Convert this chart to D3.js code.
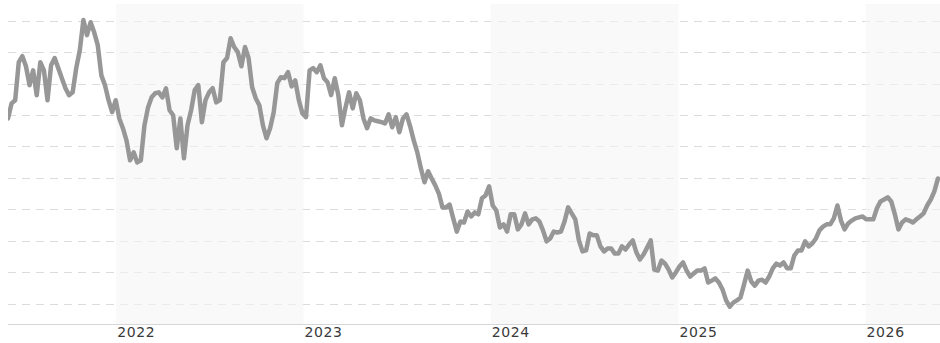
<!DOCTYPE html>
<html>
<head>
<meta charset="utf-8">
<script src="https://cdn.jsdelivr.net/npm/d3@7"></script>
<style>
  html, body { margin: 0; padding: 0; background: #ffffff; }
  svg { display: block; }
</style>
</head>
<body>
<svg id="chart" width="940" height="343"></svg>
<script>
const firstWeek = "2021-06-04";
const weekStepDays = 7;
const domainStart = "2021-06-04";
const domainEnd = "2026-05-26";

const values = [
  68.9, 73.7, 74.7, 86.8, 88.7, 85.5, 79.5, 84.2, 76.3, 86.8,
  84.2, 74.7, 85.8, 88.1, 84.9, 81.7, 78.5, 76.3, 77.2, 84.9,
  90.6, 100.2, 95.4, 99.5, 96.3, 92.2, 82.6, 79.5, 74.7, 70.9,
  74.7, 68.9, 65.8, 61.9, 55.6, 58.1, 54.9, 55.6,
  66.7, 72.4, 75.6, 76.9, 77.2, 75.6, 78.5, 71.5, 69.9, 59.4,
  68.9, 56.2, 66.7, 71.5, 77.9, 79.5, 67.7, 74.7, 77.2, 78.5,
  74.0, 74.7, 86.8, 88.1, 94.4, 91.6, 90.0, 85.5, 91.6, 88.1,
  78.8, 75.3, 73.1, 66.7, 62.6,
  65.8, 70.9, 80.1, 82.0, 81.7, 83.6, 79.1, 81.0, 74.7, 70.5,
  69.3, 84.2, 84.9, 83.6, 85.8, 81.7, 80.4, 76.3, 81.7, 76.3,
  66.7, 72.4, 77.2, 72.1, 76.9, 74.7, 68.9, 65.8, 68.9, 68.3,
  68.0, 67.7, 67.3, 70.2, 66.1, 69.3, 64.5, 68.9, 70.2,
  66.4, 61.9, 58.1, 53.0, 48.6, 52.1, 49.8, 47.6, 45.0, 40.6,
  40.6, 41.5, 37.1, 32.9, 36.1, 35.8, 39.3, 37.7, 39.0, 38.4,
  43.5, 44.4, 47.3, 41.2, 39.6, 34.2, 35.2, 32.9, 38.4, 38.4,
  33.6, 35.2, 38.7, 35.2, 36.8,
  37.1, 36.1, 33.3, 29.8, 30.7, 32.9, 32.6, 32.9, 36.1, 40.6,
  38.7, 36.8, 30.1, 26.6, 26.9, 32.3, 31.7, 31.7, 28.2, 26.6,
  27.5, 27.5, 25.9, 25.9, 28.2, 27.2, 28.8, 30.1, 26.3, 24.0,
  25.6, 27.8, 30.1, 20.8, 20.5, 23.7, 22.7, 20.8, 18.3,
  19.9, 21.8, 23.1, 20.5, 18.6, 19.6, 20.5, 20.5, 21.2, 16.7,
  17.3, 18.0, 16.7, 14.5, 11.0, 9.0, 10.3, 11.0, 11.9, 16.1,
  20.5, 17.0, 15.7, 17.3, 17.6, 16.7, 18.6, 21.2, 22.7, 22.1,
  23.1, 21.2, 21.2, 25.3, 26.9, 26.9,
  29.8, 28.2, 29.1, 30.7, 33.3, 34.5, 35.2, 35.2, 37.1, 41.2,
  36.4, 33.6, 35.5, 36.4, 37.1, 37.4, 37.7, 36.8, 36.8, 36.8,
  40.3, 42.5, 43.1, 43.8, 42.5, 38.4, 33.6, 35.8, 36.8, 36.4,
  35.8, 36.8, 37.7, 38.7, 41.2, 43.1, 45.7, 49.8
];

const yearTicks = [2022, 2023, 2024, 2025, 2026];
const shadedYears = [2020, 2022, 2024, 2026];
const gridValues = [10, 20, 30, 40, 50, 60, 70, 80, 90, 100];
const yDomain = [3.5, 105.3];

// ---- layout ----
const W = 940, H = 343;
const plot = { left: 8, right: 940, top: 4, bottom: 324 };

const parse = d3.utcParse("%Y-%m-%d");
const t0 = parse(firstWeek);
const series = values.map((v, i) => ({ date: d3.utcDay.offset(t0, i * weekStepDays), value: v }));

const x = d3.scaleUtc()
  .domain([parse(domainStart), parse(domainEnd)])
  .range([plot.left, plot.right]);
const y = d3.scaleLinear()
  .domain(yDomain)
  .range([plot.bottom, plot.top]);

const svg = d3.select("#chart");

svg.append("defs").append("clipPath").attr("id", "clip")
  .append("rect")
  .attr("x", plot.left).attr("y", plot.top)
  .attr("width", plot.right - plot.left).attr("height", plot.bottom - plot.top);

// gridlines (dashed)
svg.append("g")
  .selectAll("line")
  .data(gridValues)
  .join("line")
  .attr("x1", plot.left).attr("x2", plot.right)
  .attr("y1", d => Math.round(y(d)) + 0.5)
  .attr("y2", d => Math.round(y(d)) + 0.5)
  .attr("stroke", "#dcdcdc")
  .attr("stroke-width", 1)
  .attr("stroke-dasharray", "8,6");

// alternating year bands
svg.append("g").attr("clip-path", "url(#clip)")
  .selectAll("rect")
  .data(shadedYears)
  .join("rect")
  .attr("x", d => x(Date.UTC(d, 0, 1)))
  .attr("width", d => x(Date.UTC(d + 1, 0, 1)) - x(Date.UTC(d, 0, 1)))
  .attr("y", plot.top)
  .attr("height", plot.bottom - plot.top)
  .attr("fill", "#f5f5f5")
  .attr("fill-opacity", 0.6);

// x axis baseline
svg.append("line")
  .attr("x1", plot.left).attr("x2", plot.right)
  .attr("y1", plot.bottom + 0.5).attr("y2", plot.bottom + 0.5)
  .attr("stroke", "#d6d6d6")
  .attr("stroke-width", 1);

// year labels
svg.append("g")
  .selectAll("text")
  .data(yearTicks)
  .join("text")
  .attr("x", d => x(Date.UTC(d, 0, 1)) + 1)
  .attr("y", 337)
  .attr("text-anchor", "start")
  .attr("font-family", "DejaVu Sans, Verdana, sans-serif")
  .attr("font-size", 14)
  .attr("letter-spacing", 0.6)
  .attr("fill", "#3a3a3a")
  .text(d => String(d));

// price line
const line = d3.line()
  .x(d => x(d.date))
  .y(d => y(d.value));

svg.append("path")
  .datum(series)
  .attr("clip-path", "url(#clip)")
  .attr("d", line)
  .attr("fill", "none")
  .attr("stroke", "#979797")
  .attr("stroke-width", 4.5)
  .attr("stroke-linejoin", "round")
  .attr("stroke-linecap", "round");
</script>
</body>
</html>
